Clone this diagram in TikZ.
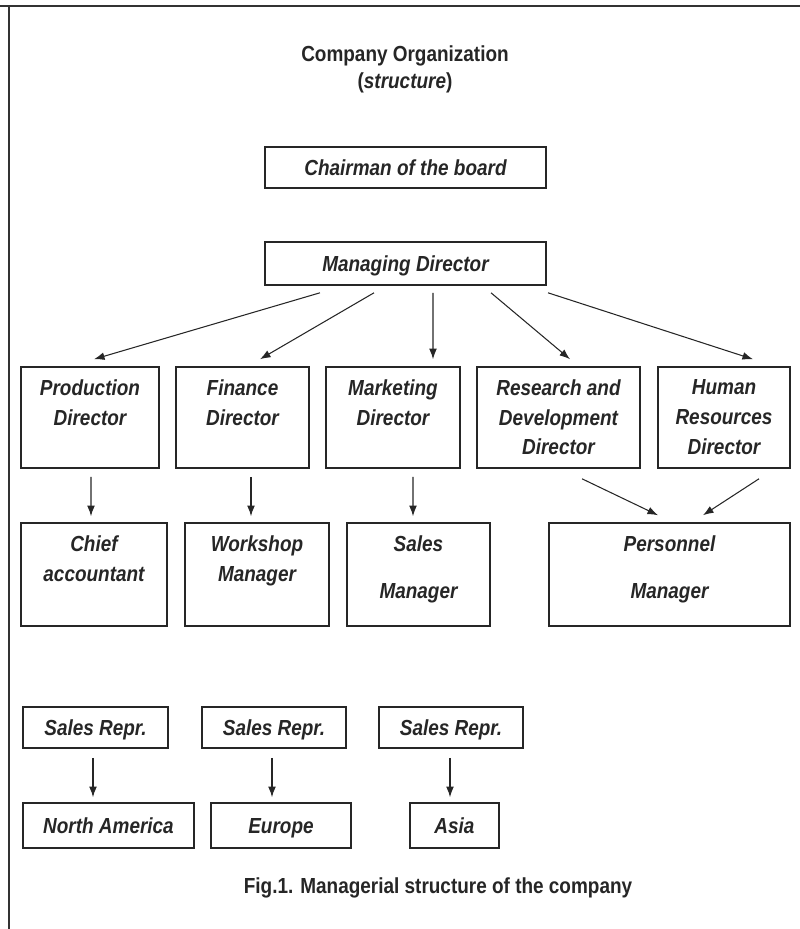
\documentclass[tikz,border=0pt]{standalone}
\usepackage{fontspec}
\setmainfont{Liberation Sans}[FakeStretch=0.87]
\usetikzlibrary{positioning,arrows.meta}

\begin{document}
\begin{tikzpicture}[>={Latex[length=6pt,width=4.4pt]},
    box/.style={draw=black!85,line width=0.9pt,inner sep=0pt},
    lbl/.style={align=center,text=black!85,font=\bfseries\itshape\fontsize{12.4}{17}\selectfont},
    one/.style={text height=10pt,text depth=1.2pt},
    link/.style={->,black!85,line width=0.6pt}]
    \useasboundingbox (0,0) rectangle (16,-18.58);
    \draw[line width=1pt,black!80] (0,-0.12)--(16,-0.12);
    \draw[line width=1pt,black!80] (0.18,-0.12)--(0.18,-18.58);

    \node[align=center,text=black!85,font=\bfseries\fontsize{12.4}{15.4}\selectfont] (title) at (8.1,-1.39)
        {Company Organization\\(\textit{structure})};

    \node[box,lbl,one,minimum width=5.62cm,minimum height=0.82cm] (chair) at (8.11,-3.35) {Chairman of the board};
    \node[box,lbl,one,minimum width=5.62cm,minimum height=0.86cm] (md) at (8.11,-5.27) {Managing Director};

    \node[box,minimum width=2.76cm,minimum height=2.02cm] (prod) at (1.8,-8.35) {};
    \node[lbl,below=4pt of prod.north] (prod-t) {Production\\Director};
    \node[box,minimum width=2.66cm,minimum height=2.02cm] (fin) at (4.85,-8.35) {};
    \node[lbl,below=4pt of fin.north] (fin-t) {Finance\\Director};
    \node[box,minimum width=2.68cm,minimum height=2.02cm] (mkt) at (7.86,-8.35) {};
    \node[lbl,below=4pt of mkt.north] (mkt-t) {Marketing\\Director};
    \node[box,minimum width=3.26cm,minimum height=2.02cm] (rd) at (11.17,-8.35) {};
    \node[lbl,below=4pt of rd.north] (rd-t) {Research and\\Development\\Director};
    \node[box,minimum width=2.64cm,minimum height=2.02cm] (hr) at (14.48,-8.35) {};
    \node[lbl,below=4pt of hr.north] (hr-t) {Human\\Resources\\Director};

    \draw[link] ([xshift=-1.71cm,yshift=-0.14cm]md.south) -- ([xshift=0.08cm,yshift=0.14cm]prod.north);
    \draw[link] ([xshift=-0.63cm,yshift=-0.14cm]md.south) -- ([xshift=0.35cm,yshift=0.14cm]fin.north);
    \draw[link] ([xshift=0.55cm,yshift=-0.14cm]md.south) -- ([xshift=0.8cm,yshift=0.14cm]mkt.north);
    \draw[link] ([xshift=1.71cm,yshift=-0.14cm]md.south) -- ([xshift=0.23cm,yshift=0.14cm]rd.north);
    \draw[link] ([xshift=2.85cm,yshift=-0.14cm]md.south) -- ([xshift=0.58cm,yshift=0.14cm]hr.north);

    \node[box,minimum width=2.92cm,minimum height=2.06cm] (chief) at (1.88,-11.49) {};
    \node[lbl,below=4pt of chief.north] (chief-t) {Chief\\accountant};
    \node[box,minimum width=2.88cm,minimum height=2.06cm] (shop) at (5.14,-11.49) {};
    \node[lbl,below=4pt of shop.north] (shop-t) {Workshop\\Manager};
    \node[box,minimum width=2.86cm,minimum height=2.06cm] (sales) at (8.37,-11.49) {};
    \node[lbl,below=4pt of sales.north] (sales-t) {Sales\\[9.7pt]Manager};
    \node[box,minimum width=4.82cm,minimum height=2.06cm] (pers) at (13.39,-11.49) {};
    \node[lbl,below=4pt of pers.north] (pers-t) {Personnel\\[9.7pt]Manager};

    \draw[link] ([xshift=0.02cm,yshift=-0.16cm]prod.south) -- ([xshift=-0.06cm,yshift=0.12cm]chief.north);
    \draw[link] ([xshift=0.17cm,yshift=-0.16cm]fin.south) -- ([xshift=-0.12cm,yshift=0.12cm]shop.north);
    \draw[link] ([xshift=0.4cm,yshift=-0.16cm]mkt.south) -- ([xshift=-0.11cm,yshift=0.12cm]sales.north);
    \draw[link] ([xshift=0.47cm,yshift=-0.2cm]rd.south) -- ([xshift=-0.23cm,yshift=0.14cm]pers.north);
    \draw[link] ([xshift=0.7cm,yshift=-0.2cm]hr.south) -- ([xshift=0.67cm,yshift=0.14cm]pers.north);

    \node[box,lbl,one,minimum width=2.9cm,minimum height=0.82cm] (rep1) at (1.91,-14.55) {Sales Repr.};
    \node[box,lbl,one,minimum width=2.88cm,minimum height=0.82cm] (rep2) at (5.48,-14.55) {Sales Repr.};
    \node[box,lbl,one,minimum width=2.88cm,minimum height=0.82cm] (rep3) at (9.02,-14.55) {Sales Repr.};

    \node[box,lbl,one,minimum width=3.42cm,minimum height=0.9cm] (am) at (2.17,-16.51) {North America};
    \node[box,lbl,one,minimum width=2.8cm,minimum height=0.9cm] (eu) at (5.62,-16.51) {Europe};
    \node[box,lbl,one,minimum width=1.78cm,minimum height=0.9cm] (asia) at (9.09,-16.51) {Asia};

    \draw[link] ([xshift=-0.05cm,yshift=-0.18cm]rep1.south) -- ([xshift=-0.31cm,yshift=0.1cm]am.north);
    \draw[link] ([xshift=-0.04cm,yshift=-0.18cm]rep2.south) -- ([xshift=-0.18cm,yshift=0.1cm]eu.north);
    \draw[link] ([xshift=-0.02cm,yshift=-0.18cm]rep3.south) -- ([xshift=-0.09cm,yshift=0.1cm]asia.north);

    \node[text=black!85,font=\bfseries\fontsize{12.4}{14}\selectfont] (caption) at (8.76,-17.76)
        {Fig.1. Managerial structure of the company};
\end{tikzpicture}
\end{document}
